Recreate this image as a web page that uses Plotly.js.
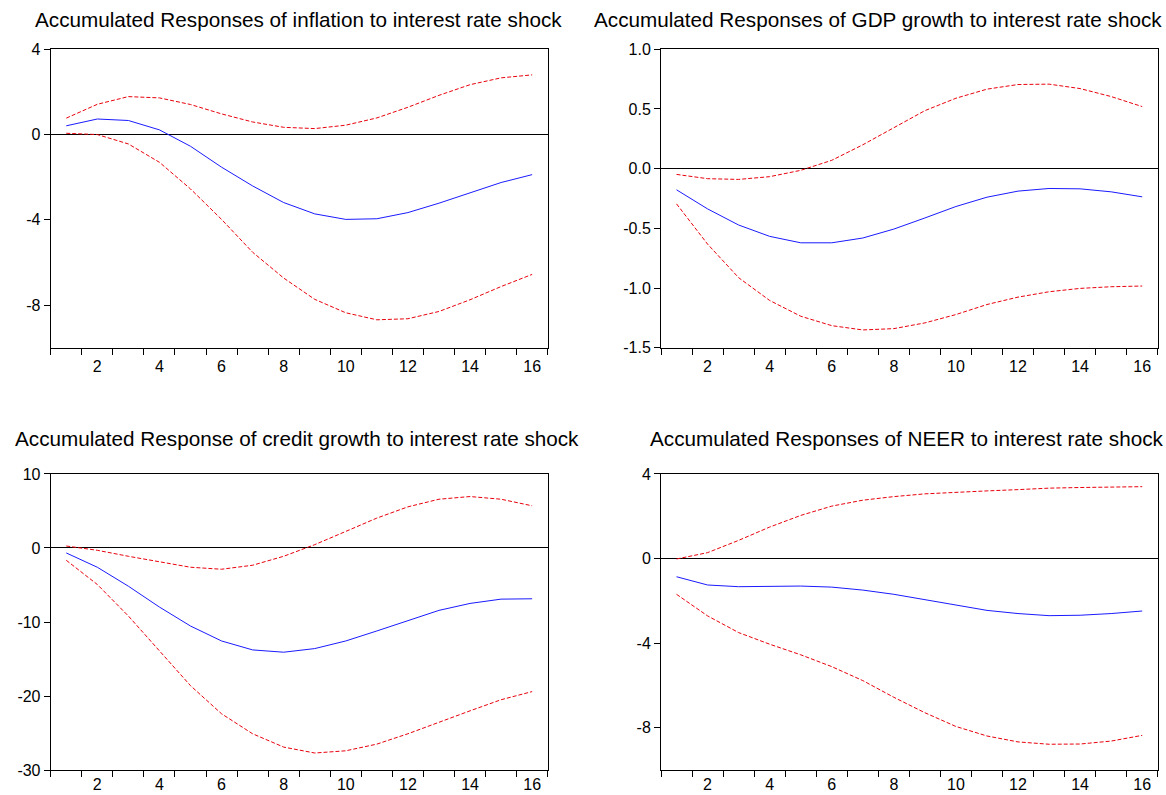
<!DOCTYPE html>
<html>
<head>
<meta charset="utf-8">
<script src="https://cdn.plot.ly/plotly-3.0.1.min.js"></script>
<style>html,body{margin:0;padding:0;background:#fff;}#chart{width:1166px;height:795px;}</style>
</head>
<body>
<div id="chart"></div>
<script>
// Periods
const periods = [1,2,3,4,5,6,7,8,9,10,11,12,13,14,15,16];
const xTickVals = [2,4,6,8,10,12,14,16];

// Panel titles
const titles = [
  "Accumulated Responses of inflation to interest rate shock",
  "Accumulated Responses of GDP growth to interest rate shock",
  "Accumulated Response of credit growth to interest rate shock",
  "Accumulated Responses of NEER to interest rate shock"
];

// Inflation
const inflResp  = [0.41,0.73,0.66,0.22,-0.55,-1.53,-2.41,-3.19,-3.72,-3.98,-3.95,-3.66,-3.22,-2.73,-2.25,-1.88];
const inflUpper = [0.77,1.42,1.78,1.72,1.41,0.97,0.59,0.34,0.28,0.44,0.78,1.28,1.84,2.34,2.66,2.80];
const inflLower = [0.06,0.00,-0.44,-1.30,-2.55,-3.98,-5.52,-6.73,-7.73,-8.36,-8.69,-8.64,-8.30,-7.75,-7.13,-6.56];

// GDP growth
const gdpResp  = [-0.177,-0.337,-0.472,-0.567,-0.621,-0.621,-0.581,-0.506,-0.413,-0.317,-0.239,-0.188,-0.166,-0.169,-0.194,-0.236];
const gdpUpper = [-0.048,-0.084,-0.090,-0.067,-0.014,0.070,0.200,0.345,0.486,0.590,0.666,0.705,0.708,0.671,0.604,0.520];
const gdpLower = [-0.295,-0.632,-0.913,-1.104,-1.236,-1.315,-1.351,-1.340,-1.292,-1.222,-1.138,-1.076,-1.031,-1.003,-0.989,-0.983];

// Credit growth
const credResp  = [-0.67,-2.6,-5.16,-7.98,-10.54,-12.56,-13.77,-14.08,-13.59,-12.56,-11.21,-9.78,-8.43,-7.49,-6.91,-6.86];
const credUpper = [0.27,-0.31,-1.12,-1.88,-2.6,-2.87,-2.33,-1.12,0.45,2.24,4.04,5.56,6.59,6.95,6.59,5.7];
const credLower = [-1.66,-4.93,-9.19,-13.9,-18.6,-22.4,-25.1,-26.9,-27.7,-27.4,-26.5,-25.1,-23.5,-22.0,-20.5,-19.4];

// NEER
const neerResp  = [-0.86,-1.25,-1.33,-1.32,-1.30,-1.35,-1.49,-1.69,-1.95,-2.20,-2.45,-2.60,-2.70,-2.68,-2.60,-2.48];
const neerUpper = [-0.02,0.28,0.86,1.49,2.04,2.48,2.76,2.93,3.06,3.14,3.20,3.26,3.33,3.36,3.39,3.40];
const neerLower = [-1.69,-2.71,-3.50,-4.05,-4.55,-5.11,-5.77,-6.56,-7.29,-7.94,-8.39,-8.67,-8.78,-8.77,-8.63,-8.36];

// Y axis settings per panel
const yRanges = [[-10,4],[-1.5,1.0],[-30,10],[-10,4]];
const yTicks  = [[-8,-4,0,4],[-1.5,-1.0,-0.5,0.0,0.5,1.0],[-30,-20,-10,0,10],[-8,-4,0,4]];
const yTickText = [["-8","-4","0","4"],["-1.5","-1.0","-0.5","0.0","0.5","1.0"],["-30","-20","-10","0","10"],["-8","-4","0","4"]];

const series = [
  [inflResp, inflUpper, inflLower],
  [gdpResp, gdpUpper, gdpLower],
  [credResp, credUpper, credLower],
  [neerResp, neerUpper, neerLower]
];

const xDomains = [[0.0435,0.4697],[0.5669,0.9929],[0.0435,0.4697],[0.5669,0.9929]];
const yDomains = [[0.5626,0.9380],[0.5626,0.9380],[0.0314,0.4038],[0.0314,0.4038]];
const xStandoff = [4,4,0,0];
const titlePos = [[298,20],[878,20],[297,438],[906,438]];

const FONT = "Liberation Sans, Arial, sans-serif";
const traces = [];
const layout = {
  width:1166, height:795,
  margin:{l:0,r:0,t:0,b:0},
  paper_bgcolor:"#fff", plot_bgcolor:"#fff",
  showlegend:false,
  font:{family:FONT, size:16, color:"#000"},
  annotations:[]
};

for (let i=0;i<4;i++){
  const n = i+1;
  const xa = n===1 ? "x" : "x"+n;
  const ya = n===1 ? "y" : "y"+n;
  const [resp, up, lo] = series[i];
  traces.push({x:periods, y:up, xaxis:xa, yaxis:ya, mode:"lines", line:{color:"#e8000b", width:1, dash:"4px,2px"}, hoverinfo:"skip"});
  traces.push({x:periods, y:lo, xaxis:xa, yaxis:ya, mode:"lines", line:{color:"#e8000b", width:1, dash:"4px,2px"}, hoverinfo:"skip"});
  traces.push({x:periods, y:resp, xaxis:xa, yaxis:ya, mode:"lines", line:{color:"#1a1aff", width:1}, hoverinfo:"skip"});
  layout["xaxis"+(n===1?"":n)] = {
    domain:xDomains[i], anchor:ya, range:[0.5,16.5],
    showgrid:false, zeroline:false, showline:true, mirror:true, linecolor:"#000", linewidth:1,
    tickmode:"array", tickvals:xTickVals, ticktext:xTickVals.map(String),
    ticks:"", ticklabelstandoff:xStandoff[i], tickfont:{family:FONT,size:16,color:"#000"},
    minor:{ticks:"outside", tick0:0.5, dtick:1, ticklen:6, tickcolor:"#000", tickwidth:1, showgrid:false},
    fixedrange:true
  };
  layout["yaxis"+(n===1?"":n)] = {
    domain:yDomains[i], anchor:xa, range:yRanges[i],
    showgrid:false, zeroline:true, zerolinecolor:"#000", zerolinewidth:1,
    showline:true, mirror:true, linecolor:"#000", linewidth:1,
    tickmode:"array", tickvals:yTicks[i], ticktext:yTickText[i],
    ticks:"outside", ticklen:6, tickcolor:"#000", tickwidth:1,
    tickfont:{family:FONT,size:16,color:"#000"},
    fixedrange:true
  };
  layout.annotations.push({
    text:titles[i], xref:"paper", yref:"paper",
    x:titlePos[i][0]/1166, y:1-titlePos[i][1]/795,
    xanchor:"center", yanchor:"middle", showarrow:false,
    font:{family:FONT, size:20.7, color:"#000"}
  });
}

Plotly.newPlot("chart", traces, layout, {staticPlot:true, displayModeBar:false});
</script>
</body>
</html>
